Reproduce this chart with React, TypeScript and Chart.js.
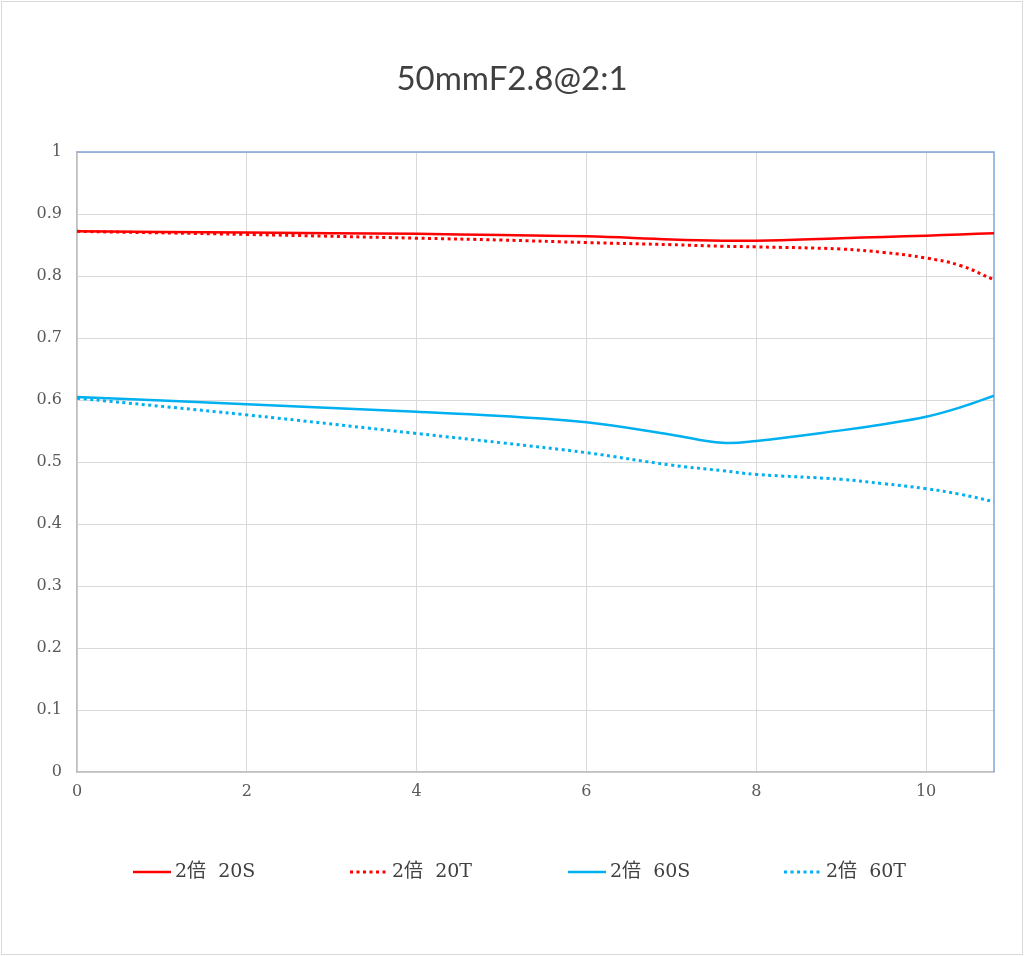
import { useEffect, useRef } from "react";
import { Chart, registerables } from "chart.js";

Chart.register(...registerables);

// ---- data ----
const TITLE = "50mmF2.8@2:1";
const xValues = [0, 2, 4, 5, 6, 7, 7.6, 8, 9, 9.5, 10, 10.4, 10.8];
const s20 = [0.872, 0.870, 0.868, 0.866, 0.864, 0.859, 0.857, 0.857, 0.861, 0.863, 0.865, 0.867, 0.869];
const t20 = [0.872, 0.867, 0.861, 0.858, 0.854, 0.8505, 0.848, 0.847, 0.8435, 0.838, 0.829, 0.817, 0.794];
const s60 = [0.605, 0.593, 0.581, 0.574, 0.564, 0.544, 0.531, 0.534, 0.551, 0.561, 0.573, 0.588, 0.607];
const t60 = [0.603, 0.576, 0.546, 0.531, 0.515, 0.495, 0.486, 0.480, 0.472, 0.465, 0.457, 0.448, 0.436];
const seriesLabels = ["2倍  20S", "2倍  20T", "2倍  60S", "2倍  60T"];
const xTicks = [0, 2, 4, 6, 8, 10];
const X_MAX = 10.8;
const Y_MIN = 0;
const Y_MAX = 1;
const Y_STEP = 0.1;

const RED = "#FF0000";
const BLUE = "#00B0F0";
const TEXT = "#595959";
const SERIF = '"DejaVu Serif", "Noto Sans CJK JP", serif';

const toPoints = (ys: number[]) => xValues.map((x, i) => ({ x, y: ys[i] }));

const LEGEND_X = [133, 350, 568, 784];
const LEGEND_Y = 872;

const framePlugin = {
  id: "frame",
  beforeDraw(chart: any) {
    const ctx = chart.ctx;
    ctx.save();
    ctx.fillStyle = "#ffffff";
    ctx.fillRect(0, 0, chart.width, chart.height);
    ctx.strokeStyle = "#d9d9d9";
    ctx.lineWidth = 1;
    ctx.strokeRect(1.5, 1.5, chart.width - 3, chart.height - 3);
    ctx.restore();
  },
  beforeDatasetsDraw(chart: any) {
    const { ctx, chartArea } = chart;
    ctx.save();
    ctx.strokeStyle = "#7FA7D9";
    ctx.lineWidth = 1.5;
    ctx.beginPath();
    ctx.moveTo(chartArea.left, chartArea.top);
    ctx.lineTo(chartArea.right, chartArea.top);
    ctx.lineTo(chartArea.right, chartArea.bottom);
    ctx.stroke();
    ctx.restore();
  },
  afterDraw(chart: any) {
    const ctx = chart.ctx;
    chart.data.datasets.forEach((ds: any, i: number) => {
      const x0 = LEGEND_X[i];
      ctx.save();
      ctx.strokeStyle = ds.borderColor;
      ctx.lineWidth = ds.borderWidth;
      ctx.setLineDash(ds.borderDash || []);
      ctx.lineCap = ds.borderCapStyle || "butt";
      ctx.beginPath();
      ctx.moveTo(x0, LEGEND_Y);
      ctx.lineTo(x0 + 38, LEGEND_Y);
      ctx.stroke();
      ctx.setLineDash([]);
      ctx.fillStyle = "#404040";
      ctx.font = `19px ${SERIF}`;
      ctx.textBaseline = "middle";
      ctx.textAlign = "left";
      ctx.fillText(ds.label, x0 + 42, LEGEND_Y);
      ctx.restore();
    });
  },
};

export default function App() {
  const ref = useRef<HTMLCanvasElement | null>(null);

  useEffect(() => {
    if (!ref.current) return;
    const dotted = [3, 3.5];
    const chart = new Chart(ref.current, {
      type: "line",
      data: {
        datasets: [
          { label: seriesLabels[0], data: toPoints(s20), borderColor: RED, borderWidth: 2.5 },
          { label: seriesLabels[1], data: toPoints(t20), borderColor: RED, borderWidth: 3, borderDash: dotted },
          { label: seriesLabels[2], data: toPoints(s60), borderColor: BLUE, borderWidth: 2.5 },
          { label: seriesLabels[3], data: toPoints(t60), borderColor: BLUE, borderWidth: 3, borderDash: dotted },
        ].map((d) => ({
          ...d,
          backgroundColor: d.borderColor,
          fill: false,
          pointRadius: 0,
          pointHoverRadius: 0,
          tension: 0.4,
        })),
      },
      options: {
        animation: false,
        responsive: false,
        devicePixelRatio: 1,
        layout: { padding: { left: 0, right: 0, top: 0, bottom: 0 } },
        plugins: {
          legend: { display: false },
          tooltip: { enabled: false },
          title: {
            display: true,
            text: TITLE,
            color: "#404040",
            font: { family: "Lato, 'Open Sans', sans-serif", size: 33, weight: "normal" },
            padding: { top: 59.2, bottom: 53.2 },
          },
        },
        scales: {
          x: {
            type: "linear",
            min: 0,
            max: X_MAX,
            afterFit: (s: any) => {
              s.height = 184;
            },
            afterBuildTicks: (s: any) => {
              s.ticks = xTicks.map((v) => ({ value: v }));
            },
            ticks: {
              color: TEXT,
              font: { family: SERIF, size: 16 },
              padding: 10,
              maxRotation: 0,
              autoSkip: false,
            },
            grid: { color: "#d9d9d9", drawTicks: false, lineWidth: 1 },
            border: { color: "#bfbfbf", width: 1.5 },
          },
          y: {
            type: "linear",
            min: Y_MIN,
            max: Y_MAX,
            afterFit: (s: any) => {
              s.width = 77;
            },
            ticks: {
              stepSize: Y_STEP,
              color: TEXT,
              font: { family: SERIF, size: 16 },
              padding: 15,
              callback: (v: any) => {
                const n = Number(v);
                return n === 0 || n === 1 ? String(n) : n.toFixed(1);
              },
            },
            grid: { color: "#d9d9d9", drawTicks: false, lineWidth: 1 },
            border: { color: "#bfbfbf", width: 1.5 },
          },
          yRight: {
            type: "linear",
            position: "right",
            min: Y_MIN,
            max: Y_MAX,
            afterFit: (s: any) => {
              s.width = 30;
            },
            ticks: { display: false },
            grid: { display: false, drawTicks: false },
            border: { display: false },
          },
        },
      },
      plugins: [framePlugin],
    });
    return () => chart.destroy();
  }, []);

  return (
    <div style={{ position: "absolute", left: 0, top: 0, width: 1024, height: 956 }}>
      <canvas ref={ref} width={1024} height={956} style={{ width: 1024, height: 956, display: "block" }} />
    </div>
  );
}
